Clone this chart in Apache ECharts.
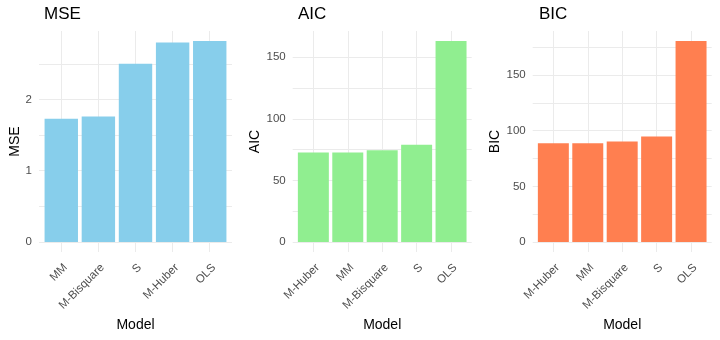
<!DOCTYPE html>
<html><head><meta charset="utf-8">
<script src="https://cdn.jsdelivr.net/npm/echarts@6/dist/echarts.min.js"></script>
<style>html,body{margin:0;padding:0;background:#fff}#c{width:720px;height:340px}</style>
</head><body><div id="c"></div>
<script>
var mseModels = ['MM', 'M-Bisquare', 'S', 'M-Huber', 'OLS'];
var mseValues = [1.73, 1.76, 2.50, 2.80, 2.82];
var aicModels = ['M-Huber', 'MM', 'M-Bisquare', 'S', 'OLS'];
var aicValues = [72.6, 72.6, 74.4, 79.0, 163.1];
var bicModels = ['M-Huber', 'MM', 'M-Bisquare', 'S', 'OLS'];
var bicValues = [88.7, 88.7, 90.4, 94.9, 180.6];
var mseTickLabels = [0, 1, 2];
var mseGridLines = [0, 0.5, 1, 1.5, 2, 2.5];
var aicTickLabels = [0, 50, 100, 150];
var aicGridLines = [0, 25, 50, 75, 100, 125, 150];
var bicTickLabels = [0, 50, 100, 150];
var bicGridLines = [0, 25, 50, 75, 100, 125, 150, 175];
var positions = [1, 2, 3, 4, 5];

var FONT = 'Arial, "Liberation Sans", sans-serif';
var panels = [
  {title: 'MSE', models: mseModels, values: mseValues, labels: mseTickLabels, lines: mseGridLines, color: '#87CEEB', left: 39, width: 193, nameGap: 16, titleLeft: 44},
  {title: 'AIC', models: aicModels, values: aicValues, labels: aicTickLabels, lines: aicGridLines, color: '#90EE90', left: 292.7, width: 179, nameGap: 30.5, titleLeft: 298},
  {title: 'BIC', models: bicModels, values: bicValues, labels: bicTickLabels, lines: bicGridLines, color: '#FF7F50', left: 532.7, width: 179, nameGap: 30.5, titleLeft: 539}
];
var option = {animation: false, backgroundColor: '#fff', title: [], grid: [], xAxis: [], yAxis: [], series: []};
panels.forEach(function (p, i) {
  var mx = Math.max.apply(null, p.values);
  var ex = mx * 0.05;
  option.title.push({text: p.title, left: p.titleLeft, top: 6, padding: 0, textStyle: {fontFamily: FONT, fontSize: 17, fontWeight: 'normal', color: '#000'}});
  option.grid.push({left: p.left, top: 31, width: p.width, height: 221, containLabel: false});
  option.xAxis.push({
    type: 'value', gridIndex: i, min: 0.4, max: 5.6,
    name: 'Model', nameLocation: 'middle', nameGap: 66,
    nameTextStyle: {fontFamily: FONT, fontSize: 14, color: '#000'},
    axisLine: {show: false},
    axisTick: {show: false, customValues: positions},
    axisLabel: {customValues: positions, rotate: 45, margin: 9.5, align: 'right', verticalAlign: 'top', fontFamily: FONT, fontSize: 11.5, color: '#4D4D4D',
      formatter: (function (m) { return function (v) { return m[Math.round(v) - 1] || ''; }; })(p.models)},
    splitLine: {show: true, lineStyle: {color: '#EBEBEB', width: 1}}
  });
  option.yAxis.push({
    type: 'value', gridIndex: i, min: -ex, max: mx + ex,
    name: p.title, nameLocation: 'middle', nameGap: p.nameGap, nameRotate: 90,
    nameTextStyle: {fontFamily: FONT, fontSize: 14, color: '#000'},
    axisLine: {show: false},
    axisTick: {show: false, customValues: p.lines},
    axisLabel: {customValues: p.labels, margin: 7, fontFamily: FONT, fontSize: 11.5, color: '#4D4D4D'},
    splitLine: {show: true, lineStyle: {color: '#EBEBEB', width: 1}}
  });
  option.series.push({
    type: 'bar', xAxisIndex: i, yAxisIndex: i, barWidth: '90%',
    itemStyle: {color: p.color},
    data: p.values.map(function (v, k) { return [positions[k], v]; })
  });
});
echarts.init(document.getElementById('c'), null, {renderer: 'canvas'}).setOption(option);
</script></body></html>
